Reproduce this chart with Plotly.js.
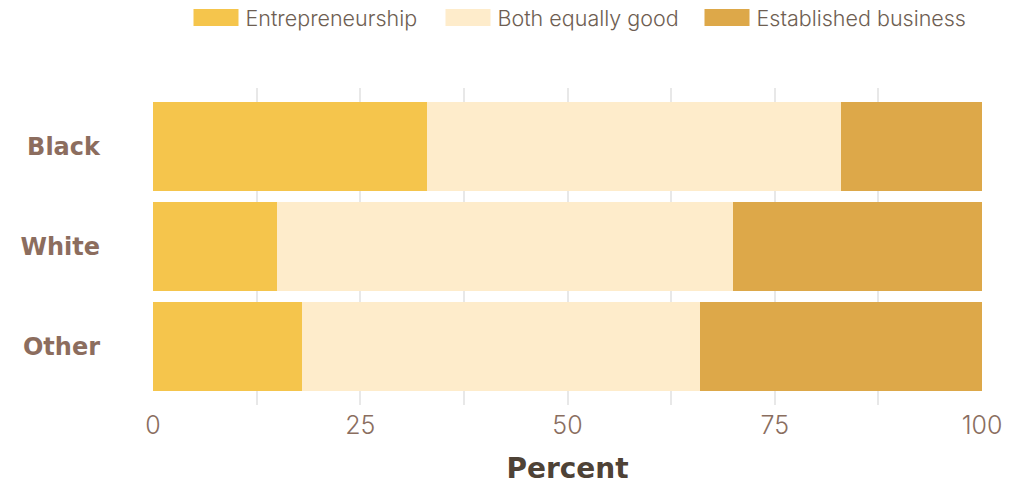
<!DOCTYPE html>
<html>
<head>
<meta charset="utf-8">
<script src="https://cdn.plot.ly/plotly-3.0.1.min.js"></script>
<style>
html,body{margin:0;padding:0;background:#fff;}
#chart{width:1018px;height:487px;}
</style>
</head>
<body>
<div id="chart"></div>
<script>
const groups = ["Black", "White", "Other"];
const seriesNames = ["Entrepreneurship", "Both equally good", "Established business"];
const entrepreneurship = [33, 15, 18];
const bothEqual = [50, 55, 48];
const established = [17, 30, 34];
const xTickVals = [0, 12.5, 25, 37.5, 50, 62.5, 75, 87.5, 100];
const xTickText = ["0", "", "25", "", "50", "", "75", "", "100"];

const colors = ["#F5C54C", "#FEECCB", "#DDA849"];
const seriesValues = [entrepreneurship, bothEqual, established];

const traces = seriesNames.map((name, i) => ({
  type: "bar",
  orientation: "h",
  name: name,
  y: groups,
  x: seriesValues[i],
  marker: {color: colors[i], line: {width: 0}},
  hoverinfo: "x+name"
}));

const layout = {
  width: 1018, height: 487,
  barmode: "stack",
  bargap: 0.115,
  paper_bgcolor: "#ffffff",
  plot_bgcolor: "#ffffff",
  margin: {l: 153, r: 36, t: 88, b: 82},
  font: {family: "Inter, 'DejaVu Sans', sans-serif", color: "#8A6E5F"},
  showlegend: true,
  legend: {
    orientation: "h",
    x: 0.5, xanchor: "center",
    y: 1.0, yref: "container", yanchor: "top",
    font: {size: 21.5, color: "#6E5E52", weight: 300},
    itemwidth: 30,
    entrywidth: 207,
    entrywidthmode: "pixels",
    traceorder: "normal"
  },
  xaxis: {
    range: [0, 100],
    tickvals: xTickVals,
    ticktext: xTickText,
    showgrid: true,
    gridcolor: "#E8E8E8",
    gridwidth: 2,
    zeroline: false,
    showline: false,
    ticks: "",
    ticklabelstandoff: 3,
    tickfont: {size: 25, color: "#8A6E5F", weight: 300},
    title: {text: "Percent", font: {family: "'DejaVu Sans', sans-serif", size: 28, color: "#4E4236", weight: 700}, standoff: 19},
    fixedrange: true
  },
  yaxis: {
    type: "category",
    range: [2.58, -0.58],
    showgrid: false,
    zeroline: false,
    showline: false,
    ticks: "",
    ticklabelstandoff: 52,
    tickfont: {family: "'DejaVu Sans', sans-serif", size: 24, color: "#8C6D5E", weight: 700},
    fixedrange: true
  }
};

function shiftTransform(el, dx, dy) {
  const t = el.getAttribute("transform") || "";
  const m = t.match(/translate\(\s*([-\d.e]+)[ ,]+([-\d.e]+)\s*\)/);
  const x = m ? parseFloat(m[1]) : 0;
  const y = m ? parseFloat(m[2]) : 0;
  el.setAttribute("transform", "translate(" + (x + dx) + "," + (y + dy) + ")");
}

Plotly.newPlot("chart", traces, layout, {displayModeBar: false, staticPlot: true}).then(function (gd) {
  // no clipping of the legend, so the wide swatches show in full
  gd.querySelectorAll(".legend .scrollbox").forEach(s => s.removeAttribute("clip-path"));
  // enlarge legend swatches to wide rectangles
  gd.querySelectorAll(".legend .traces .legendpoints path").forEach(p => {
    p.setAttribute("d", "M-32,-8.5H13V8.5H-32Z");
    p.style.strokeWidth = "0";
  });
  // fine placement of the legend
  const leg = gd.querySelector(".legend");
  if (leg) shiftTransform(leg, 16, -3);
  const items = gd.querySelectorAll(".legend .traces");
  if (items.length === 3) shiftTransform(items[2], 7, 0);
});
</script>
</body>
</html>
